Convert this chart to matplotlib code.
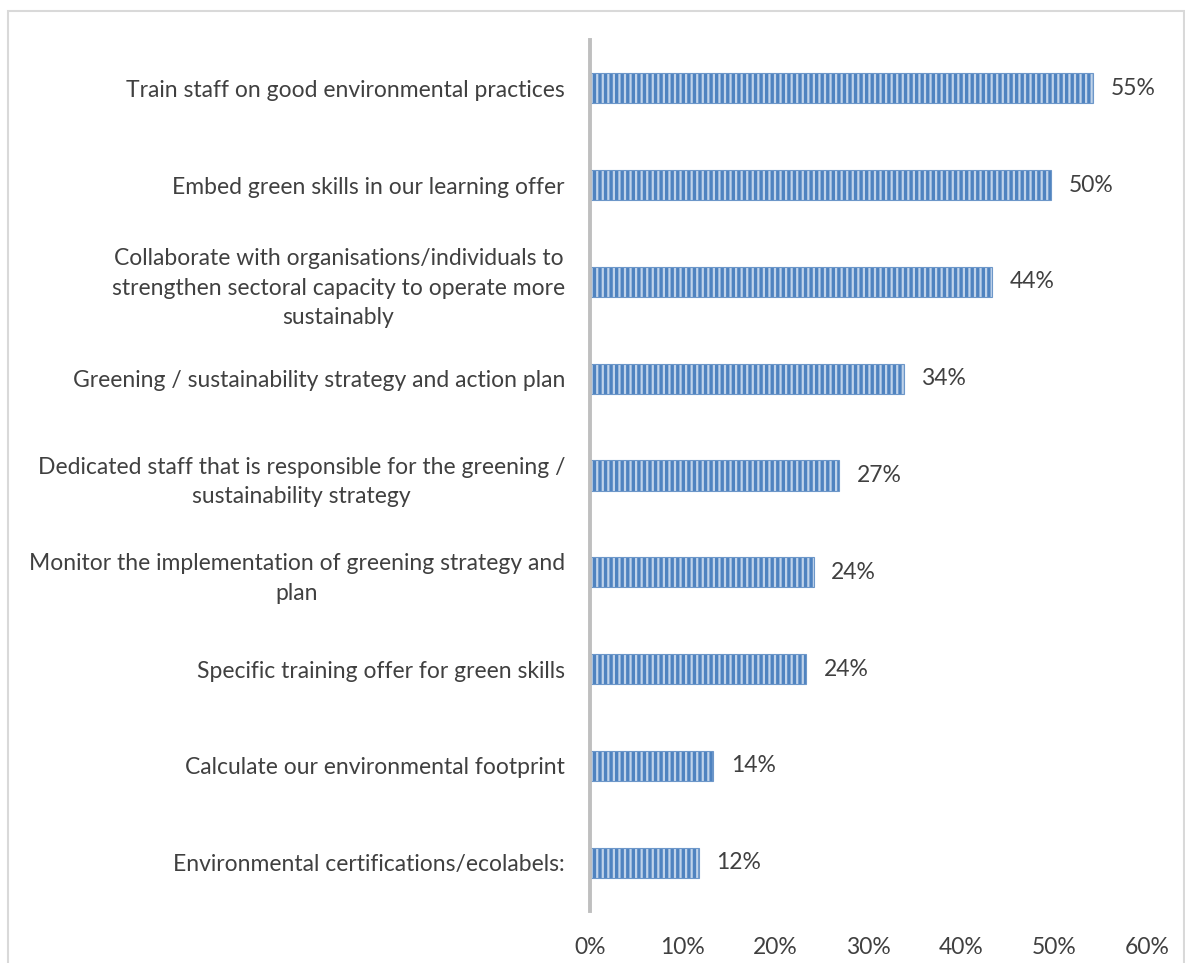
import numpy as np
import matplotlib.pyplot as plt
from matplotlib.patches import Rectangle
import matplotlib as mpl

plt.rcParams['font.family'] = ['Lato', 'DejaVu Sans']
mpl.rcParams['hatch.linewidth'] = 1.6

# Categories (top to bottom) and shares (% of respondents)
categories = [
    'Train staff on good environmental practices',
    'Embed green skills in our learning offer',
    'Collaborate with organisations/individuals to\nstrengthen sectoral capacity to operate more\nsustainably',
    'Greening / sustainability strategy and action plan',
    'Dedicated staff that is responsible for the greening /\nsustainability strategy',
    'Monitor the implementation of greening strategy and\nplan',
    'Specific training offer for green skills',
    'Calculate our environmental footprint',
    'Environmental certifications/ecolabels:',
]
values = [54.2, 49.7, 43.3, 33.8, 26.8, 24.1, 23.3, 13.3, 11.7]
value_labels = ['55%', '50%', '44%', '34%', '27%', '24%', '24%', '14%', '12%']
xticks = [0, 10, 20, 30, 40, 50, 60]

text_color = '#404040'
fs = 16.5

fig = plt.figure(figsize=(11.85, 9.63), dpi=100)
ax = fig.add_axes([590 / 1185, 1 - 911 / 963, (1147 - 590) / 1185, (911 - 40) / 963])

y = np.arange(len(categories))
ax.barh(y, values, height=0.31, color='#4f83c0', edgecolor='#c0d3ea',
        hatch='|||', linewidth=0)
ax.barh(y, values, height=0.31, color='none', edgecolor='#6d97c9', linewidth=0.8)

for yi, v, lab in zip(y, values, value_labels):
    ax.text(v + 1.9, yi, lab, va='center', ha='left', fontsize=fs, color=text_color)

ax.set_ylim(len(categories) - 0.5, -0.5)
ax.set_xlim(0, 60)
ax.set_xticks(xticks)
ax.set_xticklabels([f'{t}%' for t in xticks], fontsize=fs, color=text_color)
ax.set_yticks(y)
ax.set_yticklabels(categories, fontsize=fs, color=text_color,
                   multialignment='center', linespacing=1.5)
ax.tick_params(axis='x', length=0, pad=19)
ax.tick_params(axis='y', length=0, pad=18)

for s in ['top', 'right', 'bottom']:
    ax.spines[s].set_visible(False)
ax.spines['left'].set_color('#bfbfbf')
ax.spines['left'].set_linewidth(2.8)

# outer chart border
fig.patches.append(Rectangle((8 / 1185, -0.01), (1184 - 8) / 1185, 1 - 11 / 963 + 0.01,
                             transform=fig.transFigure, fill=False,
                             edgecolor='#d9d9d9', linewidth=1.5))

fig.savefig('out.png', dpi=100)
